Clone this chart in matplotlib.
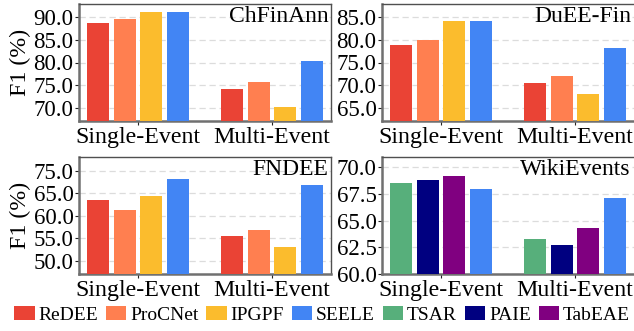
import matplotlib
matplotlib.use("Agg")
import matplotlib.pyplot as plt
from matplotlib.patches import Patch
import numpy as np

plt.rcParams['font.family'] = ['Liberation Serif', 'DejaVu Serif']

groups = ["Single-Event", "Multi-Event"]

chfin_names = ["ReDEE", "ProCNet", "IPGPF", "SEELE"]
chfin_single = [88.7, 89.6, 91.2, 91.2]
chfin_multi = [74.1, 75.7, 70.2, 80.3]

duee_single = [78.8, 79.9, 84.2, 84.2]
duee_multi = [70.4, 72.0, 68.0, 78.2]

fndee_single = [63.5, 61.3, 64.5, 68.2]
fndee_multi = [55.5, 56.8, 53.1, 66.8]
fndee_ticks = [50, 55, 60, 65, 70]
fndee_ticklabels = ["50.0", "55.0", "60.0", "65.0", "75.0"]

wiki_names = ["TSAR", "PAIE", "TabEAE", "SEELE"]
wiki_single = [68.5, 68.8, 69.2, 68.0]
wiki_multi = [63.3, 62.75, 64.3, 67.1]

color_map = {
    "ReDEE": "#EA4335",
    "ProCNet": "#FF7F50",
    "IPGPF": "#FBBC2D",
    "SEELE": "#4285F4",
    "TSAR": "#57AF7B",
    "PAIE": "#000080",
    "TabEAE": "#800080",
}

fig = plt.figure(figsize=(6.34, 3.31), dpi=100)
W, H = 634, 331

def make_ax(x0, y0, x1, y1):
    return fig.add_axes([x0 / W, 1 - y1 / H, (x1 - x0) / W, (y1 - y0) / H])

axes = [
    make_ax(79, 4, 331, 121),
    make_ax(382, 4, 636, 121),
    make_ax(79, 157, 331, 274),
    make_ax(382, 157, 636, 274),
]

panels = [
    ("ChFinAnn", chfin_names, chfin_single, chfin_multi, (67.06, 92.94), [70, 75, 80, 85, 90], None),
    ("DuEE-Fin", chfin_names, duee_single, duee_multi, (62.06, 87.94), [65, 70, 75, 80, 85], None),
    ("FNDEE", chfin_names, fndee_single, fndee_multi, (47.05, 73.1), fndee_ticks, fndee_ticklabels),
    ("WikiEvents", wiki_names, wiki_single, wiki_multi, (60.0, 70.96), [60, 62.5, 65, 67.5, 70], None),
]

fs_y = 16.5
fs_x = 17.2
fs_t = 17
x = np.arange(len(groups))
offsets = [-0.3, -0.1, 0.1, 0.3]
bw = 0.164

for i, (ax, (title, names, single, multi, ylim, yt, ytl)) in enumerate(zip(axes, panels)):
    for j, name in enumerate(names):
        vals = [single[j], multi[j]]
        ax.bar(x + offsets[j], vals, width=bw, color=color_map[name], zorder=3)
    ax.set_xlim(-0.44, 1.44 + (0.015 if i % 2 == 1 else 0))
    ax.set_ylim(*ylim)
    ax.set_yticks(yt)
    if ytl is not None:
        ax.set_yticklabels(ytl)
    else:
        ax.set_yticklabels([f"{v:.1f}" for v in yt])
    ax.set_xticks(x)
    ax.set_xticklabels(groups)
    ax.tick_params(axis='both', length=3, width=0.8, pad=1, colors='#222222',
                   labelcolor='black')
    ax.tick_params(axis='y', labelsize=fs_y)
    ax.tick_params(axis='x', labelsize=fs_x)
    ax.yaxis.grid(True, linestyle=(0, (5, 3)), color='#dcdcdc', linewidth=0.9, zorder=0)
    ax.set_axisbelow(True)
    for s in ['left', 'bottom']:
        ax.spines[s].set_color('#707070')
        ax.spines[s].set_linewidth(1.8)
    for s in ['top', 'right']:
        ax.spines[s].set_color('#505050')
        ax.spines[s].set_linewidth(1.0)
    if i % 2 == 1:
        ax.spines['right'].set_visible(False)
    tx = 0.99 if i % 2 == 0 else 0.98
    ax.text(tx, 0.985, title, transform=ax.transAxes, ha='right', va='top', fontsize=fs_t)
    if i % 2 == 0:
        ax.set_ylabel("F1 (%)", fontsize=fs_x)
        ax.yaxis.set_label_coords(-0.19, 0.5)

handles = [Patch(facecolor=color_map[n], label=n) for n in
           ["ReDEE", "ProCNet", "IPGPF", "SEELE", "TSAR", "PAIE", "TabEAE"]]
fig.legend(handles=handles, loc='center', bbox_to_anchor=(0.508, 0.048), ncol=7,
           frameon=False, fontsize=14, handlelength=1.05, handleheight=0.7,
           handletextpad=0.2, columnspacing=0.4, borderaxespad=0, borderpad=0)

fig.savefig("out.png", dpi=100)
